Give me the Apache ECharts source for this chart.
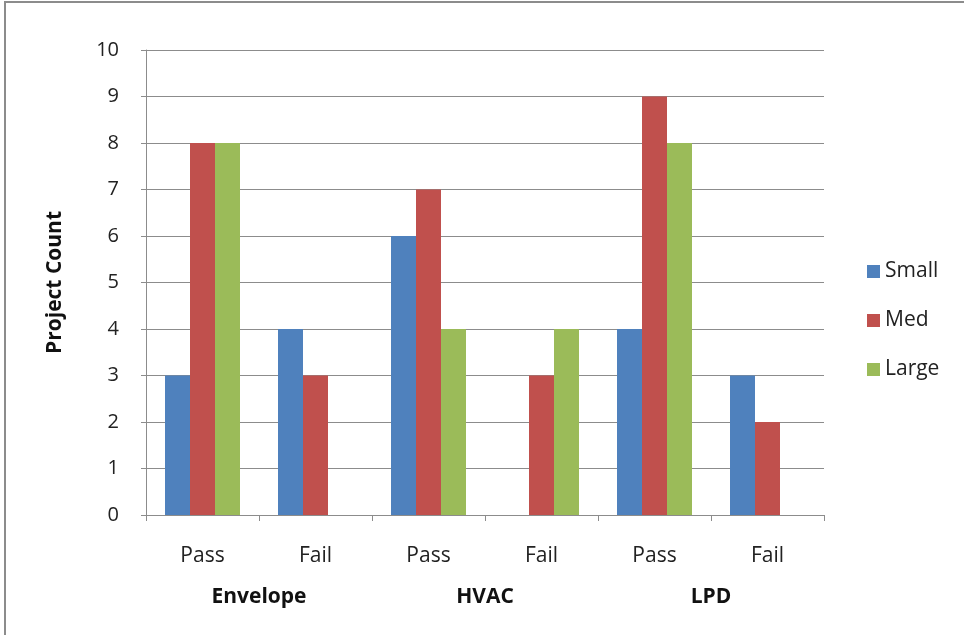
<!DOCTYPE html>
<html>
<head>
<meta charset="utf-8">
<script src="https://cdn.jsdelivr.net/npm/echarts@6/dist/echarts.min.js"></script>
<style>
  html, body { margin: 0; padding: 0; background: #fff; }
  #main { position: absolute; left: 4px; top: 1px; width: 960px; height: 634px;
          border-left: 2px solid #8c8c8c; border-top: 2px solid #8c8c8c; box-sizing: border-box; }
</style>
</head>
<body>
<div id="main"></div>
<script>
// data
const categories = ['Pass', 'Fail', 'Pass', 'Fail', 'Pass', 'Fail'];
const groups = ['Envelope', 'HVAC', 'LPD'];
const small = [3, 4, 6, 0, 4, 3];
const med = [8, 3, 7, 3, 9, 2];
const large = [8, 0, 4, 4, 8, 0];

const font = '"Open Sans", "Liberation Sans", sans-serif';
const chart = echarts.init(document.getElementById('main'));

const bar = (name, data, color) => ({
  name, type: 'bar', data, barWidth: 25, barGap: '0%',
  itemStyle: { color }
});

chart.setOption({
  animation: false,
  textStyle: { fontFamily: font },
  grid: { left: 140, right: 140, top: 47, bottom: 120 },
  legend: {
    orient: 'vertical', left: 856, top: 253, itemGap: 28,
    itemWidth: 13, itemHeight: 13, icon: 'rect',
    textStyle: { fontSize: 21, color: '#222', fontFamily: font }
  },
  xAxis: [{
    type: 'category', data: categories,
    axisLine: { lineStyle: { color: '#8c8c8c' } },
    axisTick: { show: true, length: 6, lineStyle: { color: '#8c8c8c' } },
    axisLabel: { fontSize: 21, color: '#222', margin: 31 }
  }, {
    type: 'category', data: groups, position: 'bottom', offset: 0,
    axisLine: { show: false }, axisTick: { show: false },
    axisLabel: { fontSize: 21, fontWeight: 'bold', color: '#111', margin: 72 }
  }],
  yAxis: {
    type: 'value', min: 0, max: 10, interval: 1,
    name: 'Project Count', nameLocation: 'middle', nameGap: 80, nameRotate: 90,
    nameTextStyle: { fontSize: 21, fontWeight: 'bold', color: '#111' },
    axisLine: { show: true, lineStyle: { color: '#8c8c8c' } },
    axisTick: { show: true, length: 5, lineStyle: { color: '#8c8c8c' } },
    axisLabel: { fontSize: 20, color: '#222', margin: 27 },
    splitLine: { lineStyle: { color: '#8c8c8c' } }
  },
  series: [
    bar('Small', small, '#4F81BD'),
    bar('Med', med, '#C0504D'),
    bar('Large', large, '#9BBB59')
  ]
});
</script>
</body>
</html>
